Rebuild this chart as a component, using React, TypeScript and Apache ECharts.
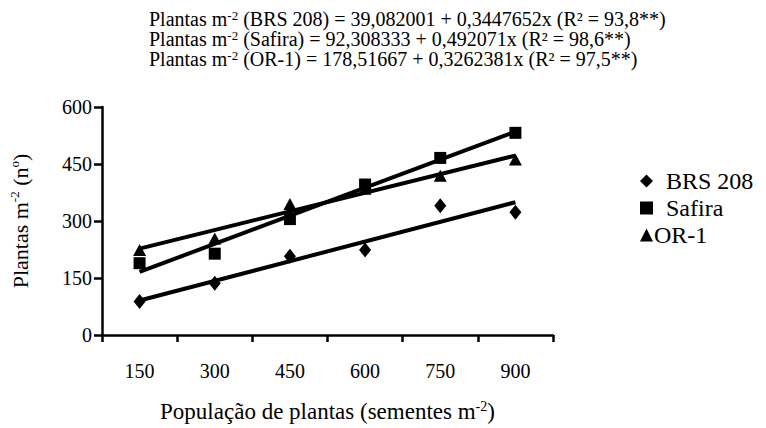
import React, { useEffect, useRef } from "react";
import * as echarts from "echarts";

const categories = ["150", "300", "450", "600", "750", "900"];
const seriesNames = ["BRS 208", "Safira", "OR-1"];
const brs208 = [88, 136, 207, 224, 340, 323];
const safira = [189, 214, 305, 396, 466, 532];
const or1 = [224, 254, 345, 385, 419, 462];
// regression coefficients (intercept, slope) as printed
const intercepts = [39.082001, 92.308333, 178.51667];
const slopes = [0.3447652, 0.492071, 0.3262381];
const equationLines = [
  "Plantas m{sup|-2} (BRS 208) = 39,082001 + 0,3447652x (R² = 93,8**)",
  "Plantas m{sup|-2} (Safira) = 92,308333 + 0,492071x (R² = 98,6**)",
  "Plantas m{sup|-2} (OR-1) = 178,51667 + 0,3262381x (R² = 97,5**)",
];
const yTicks = { min: 0, max: 600, interval: 150 };

const FONT = "Liberation Serif";

export default function App() {
  const ref = useRef<HTMLDivElement>(null);
  useEffect(() => {
    if (!ref.current) return;
    const chart = echarts.init(ref.current, null, { renderer: "svg" });
    const symbols = ["diamond", "rect", "triangle"];
    const symbolSizes: any[] = [[12, 15], 12, [13, 12]];
    const dataSets = [brs208, safira, or1];
    const first = categories[0];
    const last = categories[categories.length - 1];
    const regSeries = seriesNames.map((n, i) => ({
      name: n + " fit",
      type: "line",
      data: [
        [first, intercepts[i] + slopes[i] * Number(first)],
        [last, intercepts[i] + slopes[i] * Number(last)],
      ],
      showSymbol: false,
      symbol: "none",
      lineStyle: { color: "#000", width: 4 },
      z: 2,
    }));
    const scatterSeries = seriesNames.map((n, i) => ({
      name: n,
      type: "scatter",
      data: dataSets[i],
      symbol: symbols[i],
      symbolSize: symbolSizes[i],
      itemStyle: { color: "#000", opacity: 1 },
      z: 3,
    }));
    chart.setOption({
      animation: false,
      backgroundColor: "#fff",
      textStyle: { fontFamily: FONT, color: "#000" },
      title: {
        text: equationLines.join("\n"),
        left: 149,
        top: 9,
        padding: 0,
        textStyle: {
          fontFamily: FONT,
          fontWeight: "normal",
          fontSize: 20,
          lineHeight: 20,
          color: "#000",
          rich: {
            sup: { fontSize: 13, lineHeight: 20, verticalAlign: "top", fontFamily: FONT, color: "#000" },
          },
        },
      },
      legend: {
        orient: "vertical",
        left: 635,
        top: 164,
        itemWidth: 13,
        itemHeight: 13,
        itemGap: 3,
        data: seriesNames.map((n, i) => ({ name: n, icon: symbols[i] })),
        formatter: (name: string) => (name === "OR-1" ? name : "  " + name),
        textStyle: { fontFamily: FONT, fontSize: 24, color: "#000", padding: [0, 0, 0, -4] },
        itemStyle: { color: "#000", opacity: 1 },
      },
      grid: { left: 95, right: 213, top: 107, bottom: 84 },
      xAxis: {
        type: "category",
        data: categories,
        boundaryGap: true,
        name: "População de plantas (sementes m{sup|-2})",
        nameLocation: "middle",
        nameGap: 64,
        nameTextStyle: {
          fontFamily: FONT,
          fontSize: 23,
          color: "#000",
          lineHeight: 24,
          rich: { sup: { fontSize: 14, lineHeight: 24, verticalAlign: "top", fontFamily: FONT, color: "#000" } },
        },
        axisLine: { lineStyle: { color: "#000", width: 2.5 } },
        axisTick: { show: true, length: 7, lineStyle: { color: "#000", width: 2.5 } },
        axisLabel: { fontFamily: FONT, fontSize: 20, color: "#000", margin: 26 },
        splitLine: { show: false },
      },
      yAxis: {
        type: "value",
        min: yTicks.min,
        max: yTicks.max,
        interval: yTicks.interval,
        name: "Plantas m{sup|-2} (n{sup|o})",
        nameLocation: "middle",
        nameGap: 70,
        nameRotate: 90,
        nameTextStyle: {
          fontFamily: FONT,
          fontSize: 22,
          color: "#000",
          lineHeight: 24,
          rich: { sup: { fontSize: 13, lineHeight: 24, verticalAlign: "top", fontFamily: FONT, color: "#000" } },
        },
        axisLine: { show: true, lineStyle: { color: "#000", width: 2.5 } },
        axisTick: { show: true, length: 8, lineStyle: { color: "#000", width: 2.5 } },
        axisLabel: { fontFamily: FONT, fontSize: 20, color: "#000", margin: 10 },
        splitLine: { show: false },
      },
      series: [...regSeries, ...scatterSeries],
    });
    return () => chart.dispose();
  }, []);
  return (
    <div
      ref={ref}
      style={{ position: "absolute", left: 0, top: 0, width: 766, height: 428 }}
    />
  );
}
